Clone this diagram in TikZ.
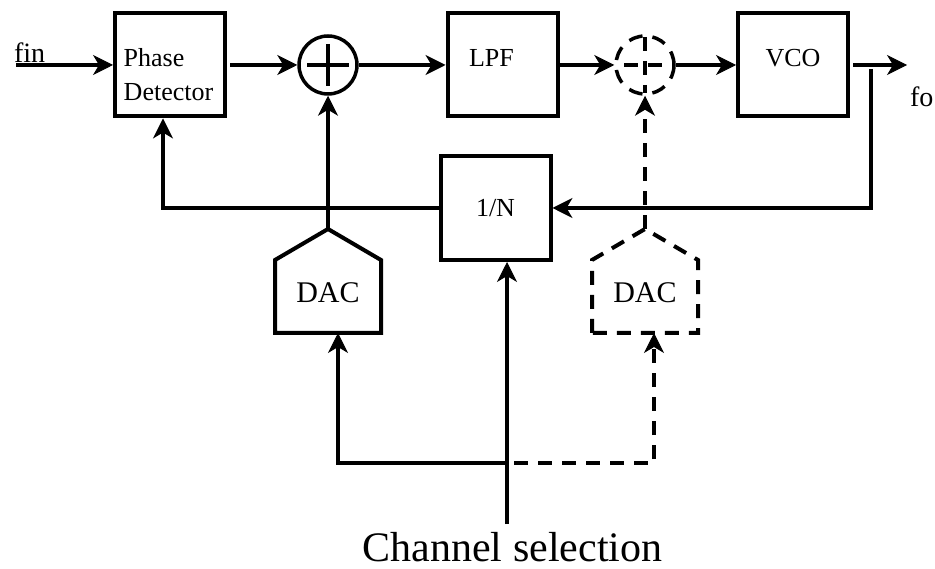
\documentclass[tikz,border=0pt]{standalone}
\usepackage{fontspec}
\setmainfont{Liberation Serif}
\usetikzlibrary{arrows.meta}
\begin{document}
\begin{tikzpicture}[x=1pt,y=-1pt,line width=4pt,
  tip/.style={-{Stealth[length=20pt,width=20pt,inset=6pt,line width=1pt]}},
  dsh/.style={dash pattern=on 14pt off 10pt},
  block/.style={draw,rectangle,minimum width=110pt,minimum height=103pt,inner sep=0pt,
    font=\fontsize{26}{34}\selectfont},
  boxtext/.style={text height=17pt,text depth=14pt},
  dacbox/.style={rectangle,minimum width=106pt,minimum height=73pt,inner sep=0pt,outer sep=0pt,
    font=\fontsize{30}{36}\selectfont,text height=20pt,text depth=7pt},
  summer/.style={draw,circle,minimum size=58pt,inner sep=0pt,line width=3.5pt},
  lbl/.style={inner sep=0pt,font=\fontsize{28}{34}\selectfont}]
\useasboundingbox (0,0) rectangle (935,569);

% forward path
\node (pd) [block] at (170,65) {};
\node (pdlabel) [inner sep=0pt,align=left,font=\fontsize{26}{34}\selectfont] at (168.5,75) {Phase\\Detector};
\node (sum) [summer] at (328,65) {};
\draw[line width=3.5pt] ([xshift=-21pt]sum.center) -- ([xshift=21pt]sum.center)
  ([yshift=21pt]sum.center) -- ([yshift=-21pt]sum.center);
\node (lpf) [block,boxtext] at (502.5,65) {LPF\rule{22pt}{0pt}};
\node (dsum) [summer,dsh] at (645,65) {};
\draw[line width=3.5pt,dsh] ([xshift=-21pt]dsum.center) -- ([xshift=21pt]dsum.center)
  ([yshift=28pt]dsum.center) -- ([yshift=-28pt]dsum.center);
\node (vco) [block,boxtext] at (793,65) {VCO};

% divider and DACs
\node (div) [block,minimum height=104pt,text height=17pt,text depth=0pt] at (495.5,208) {1/N};
\node (dac1) [dacbox] at (328,296.5) {DAC};
\coordinate (dac1top) at ([yshift=31pt]dac1.north);
\draw (dac1.south west) -- (dac1.north west) -- (dac1top) -- (dac1.north east)
  -- (dac1.south east) -- cycle;
\node (dac2) [dacbox] at (645,296.5) {DAC};
\coordinate (dac2top) at ([yshift=31pt]dac2.north);
\draw[dsh] (dac2.south west) -- (dac2.north west) -- (dac2top) -- (dac2.north east)
  -- (dac2.south east) -- cycle;

% input, output and labels
\coordinate (fin) at (16,65);
\node (fintext) [lbl,anchor=base west] at (12,63) {fin};
\coordinate (out) at (907,65);
\node (fo) [lbl,anchor=base west] at (908,107) {fo};
\coordinate (tap) at (871,69);
\coordinate (chan) at (507,524);
\coordinate (branch) at (507,463);
\node (chtext) [inner sep=0pt,anchor=base,font=\fontsize{42}{48}\selectfont] at (512.5,561) {Channel selection};

% connectors
\draw[tip] (fin) -- (pd.west);
\draw[tip] ([xshift=3pt]pd.east) -- (sum.west);
\draw[tip] (sum.east) -- (lpf.west);
\draw[tip] (lpf.east) -- (dsum.west);
\draw[tip] (dsum.east) -- (vco.west);
\draw[tip] ([xshift=3pt]vco.east) -- (out);
\draw[tip] (tap) |- (div.east);
\draw[tip] (div.west) -| ([xshift=-7pt]pd.south);
\draw[tip] (dac1top) -- (sum.south);
\draw[tip,dsh] (dac2top) -- (dsum.south);
\draw[tip] (chan) -- (chan |- div.south);
\draw[tip] (branch) -| ([xshift=10pt]dac1.south);
\draw[tip,dsh] ([xshift=7pt]branch) -| ([xshift=9pt]dac2.south);
\end{tikzpicture}
\end{document}
